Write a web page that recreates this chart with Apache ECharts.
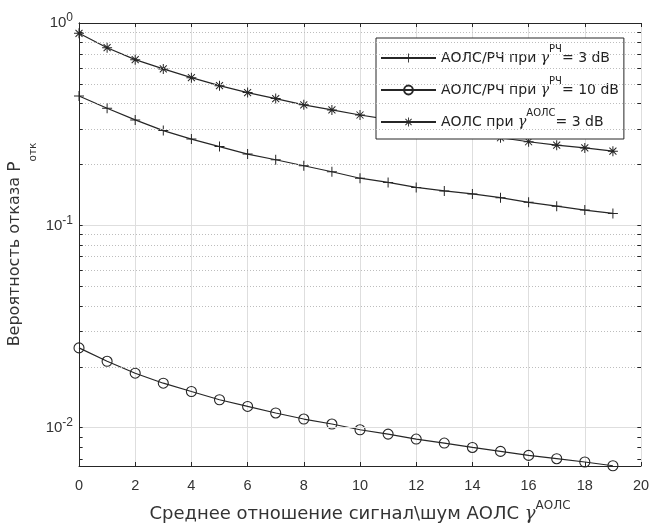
<!DOCTYPE html>
<html>
<head>
<meta charset="utf-8">
<script src="https://cdn.jsdelivr.net/npm/echarts@6/dist/echarts.min.js"></script>
<style>html,body{margin:0;padding:0;background:#fff}#c{width:651px;height:528px}</style>
</head>
<body>
<div id="c"></div>
<script>
// ---- data ----
const xValues = [0,1,2,3,4,5,6,7,8,9,10,11,12,13,14,15,16,17,18,19];
const hybridRf3dB = [0.436,0.379,0.332,0.294,0.267,0.245,0.225,0.211,0.197,0.184,0.171,0.163,0.154,0.148,0.143,0.137,0.130,0.1244,0.119,0.1145];
const hybridRf10dB = [0.0248,0.0213,0.0186,0.0166,0.0151,0.01375,0.01274,0.01183,0.01104,0.01043,0.00977,0.00930,0.00879,0.00840,0.00799,0.00764,0.00730,0.00703,0.00677,0.00649];
const fsoOnly3dB = [0.889,0.755,0.659,0.593,0.537,0.490,0.453,0.423,0.394,0.372,0.351,0.334,0.316,0.300,0.285,0.271,0.259,0.249,0.2415,0.2325];
const seriesNames = ['АОЛС/РЧ при γРЧ= 3 dB', 'АОЛС/РЧ при γРЧ= 10 dB', 'АОЛС при γАОЛС= 3 dB'];
const legendRich = [
  '{t|АОЛС/РЧ при }{g|γ}{s|РЧ}{t|= 3 dB}',
  '{t|АОЛС/РЧ при }{g|γ}{s|РЧ}{t|= 10 dB}',
  '{t|АОЛС при }{g|γ}{s|АОЛС}{t|= 3 dB}'
];
const xTickLabels = ['0','2','4','6','8','10','12','14','16','18','20'];
const yMin = 0.00647, yMax = 1;
const xMin = 0, xMax = 20, xStep = 2;
const majorDecades = [0.01, 0.1, 1];
const mantissas = [2,3,4,5,6,7,8,9];

// derived grid values
const minorValues = [];
[0.001, 0.01, 0.1].forEach(d => mantissas.forEach(m => {
  const v = +(m * d).toPrecision(3);
  if (v > yMin && v < yMax) minorValues.push(v);
}));
const majorValues = majorDecades.filter(v => v >= yMin && v <= yMax);
const allTickValues = majorValues.concat(minorValues);

const FONT = 'Liberation Sans, Arial, sans-serif';
const WIDE = 'DejaVu Sans, sans-serif';
const LINE = '#262626';
const TXT = '#333';
const plusPath = 'path://M0,4.5L10,4.5L10,5.5L0,5.5Z M4.5,0L5.5,0L5.5,10L4.5,10Z';
const starPath = 'path://M0,4.5L10,4.5L10,5.5L0,5.5Z M4.5,0L5.5,0L5.5,10L4.5,10Z M1.15,1.85L1.85,1.15L8.85,8.15L8.15,8.85Z M8.15,1.15L8.85,1.85L1.85,8.85L1.15,8.15Z';

const tickLenX = 0.13;
const tickData = [];
allTickValues.forEach(v => {
  tickData.push([{coord:[xMin, v]}, {coord:[xMin + tickLenX, v]}]);
  tickData.push([{coord:[xMax - tickLenX, v]}, {coord:[xMax, v]}]);
});

function mk(data, style) {
  return {
    silent: true, symbol: ['none','none'], animation: false,
    label: {show: false}, emphasis: {disabled: true},
    lineStyle: style, data: data
  };
}

const chart = echarts.init(document.getElementById('c'), null, {renderer: 'canvas'});
chart.setOption({
  animation: false,
  backgroundColor: '#fff',
  textStyle: {fontFamily: FONT},
  grid: {left: 79, top: 23, right: 10, bottom: 62, containLabel: false, outerBoundsMode: 'none'},
  legend: {
    data: seriesNames,
    orient: 'vertical',
    left: 376, top: 38,
    padding: [6, 5, 10, 4],
    itemGap: 11,
    itemWidth: 55, itemHeight: 11,
    backgroundColor: '#fff',
    borderColor: LINE, borderWidth: 1,
    formatter: name => legendRich[seriesNames.indexOf(name)],
    textStyle: {
      color: '#222', fontFamily: WIDE, fontSize: 14,
      rich: {
        t: {fontSize: 14, lineHeight: 28, verticalAlign: 'middle', color: '#222', fontFamily: WIDE},
        g: {fontSize: 14, lineHeight: 28, verticalAlign: 'middle', color: '#222', fontFamily: 'DejaVu Serif', fontStyle: 'italic'},
        s: {fontSize: 10, lineHeight: 12, verticalAlign: 'top', color: '#222', fontFamily: WIDE}
      }
    }
  },
  xAxis: [{
    type: 'value', min: xMin, max: xMax, interval: xStep, position: 'bottom',
    axisLine: {show: true, lineStyle: {color: LINE, width: 1}},
    axisTick: {show: true, inside: true, length: 4, lineStyle: {color: LINE}},
    axisLabel: {margin: 12, fontSize: 14.5, color: TXT, fontFamily: FONT,
      formatter: v => xTickLabels[Math.round((v - xMin) / xStep)]},
    splitLine: {show: true, lineStyle: {color: '#dedede', width: 1}},
    name: '{t|Среднее отношение сигнал\\шум АОЛС }{g|γ}{s|АОЛС}',
    nameLocation: 'middle', nameGap: 34,
    nameTextStyle: {
      color: TXT, fontSize: 18, fontFamily: WIDE,
      rich: {
        t: {fontSize: 18, lineHeight: 28, verticalAlign: 'middle', color: TXT, fontFamily: WIDE},
        g: {fontSize: 18, lineHeight: 28, verticalAlign: 'middle', color: TXT, fontFamily: 'DejaVu Serif', fontStyle: 'italic'},
        s: {fontSize: 12, lineHeight: 8, verticalAlign: 'top', color: TXT, fontFamily: WIDE}
      }
    }
  }, {
    type: 'value', min: xMin, max: xMax, interval: xStep, position: 'top',
    axisLine: {show: true, lineStyle: {color: LINE, width: 1}},
    axisTick: {show: true, inside: true, length: 4, lineStyle: {color: LINE}},
    axisLabel: {show: false}, splitLine: {show: false}
  }],
  yAxis: [{
    type: 'log', logBase: 10, min: yMin, max: yMax, position: 'left',
    axisLine: {show: true, lineStyle: {color: LINE, width: 1}},
    axisTick: {show: false},
    splitLine: {show: false},
    axisLabel: {
      margin: 6, color: TXT, fontFamily: FONT, fontSize: 15, showMinLabel: false,
      formatter: v => {
        const l = Math.log10(v), e = Math.round(l);
        if (Math.abs(l - e) > 1e-6) return '';
        return '{b|10}{s|' + (e < 0 ? '-' + (-e) : e) + '}';
      },
      rich: {
        b: {fontSize: 15, lineHeight: 22, verticalAlign: 'middle', color: TXT, fontFamily: FONT},
        s: {fontSize: 12, lineHeight: 12, verticalAlign: 'top', color: TXT, fontFamily: FONT}
      }
    },
    name: '{t|Вероятность отказа }{p|P}{s|отк}',
    nameLocation: 'middle', nameGap: 40, nameMoveOverlap: false,
    nameTextStyle: {
      color: TXT, fontSize: 16, fontFamily: WIDE,
      rich: {
        t: {fontSize: 16, lineHeight: 19, verticalAlign: 'top', color: TXT, fontFamily: WIDE},
        p: {fontSize: 17, lineHeight: 19, verticalAlign: 'top', color: TXT, fontFamily: WIDE},
        s: {fontSize: 10.5, lineHeight: 32, verticalAlign: 'bottom', color: TXT, fontFamily: WIDE}
      }
    }
  }, {
    type: 'log', logBase: 10, min: yMin, max: yMax, position: 'right',
    axisLine: {show: true, lineStyle: {color: LINE, width: 1}},
    axisTick: {show: false}, axisLabel: {show: false}, splitLine: {show: false}
  }],
  series: [
    {type: 'line', name: 'minorGrid', data: [], z: 1, silent: true,
      markLine: mk(minorValues.map(v => ({yAxis: v})), {color: '#bdbdbd', type: [1, 2], width: 1})},
    {type: 'line', name: 'majorGrid', data: [], z: 1, silent: true,
      markLine: mk(majorValues.filter(v => v < yMax).map(v => ({yAxis: v})), {color: '#dedede', type: 'solid', width: 1})},
    {type: 'line', name: 'ticks', data: [], z: 4, silent: true,
      markLine: mk(tickData, {color: LINE, type: 'solid', width: 1})},
    {type: 'line', name: seriesNames[0], z: 3,
      data: xValues.map((x, i) => [x, hybridRf3dB[i]]),
      symbol: plusPath, symbolSize: 10, showAllSymbol: true,
      lineStyle: {color: LINE, width: 1.2},
      itemStyle: {color: LINE, borderWidth: 0}},
    {type: 'line', name: seriesNames[1], z: 3,
      data: xValues.map((x, i) => [x, hybridRf10dB[i]]),
      symbol: 'circle', symbolSize: 10, showAllSymbol: true,
      lineStyle: {color: LINE, width: 1.2},
      itemStyle: {color: 'rgba(255,255,255,0)', borderColor: LINE, borderWidth: 1.1}},
    {type: 'line', name: seriesNames[2], z: 3,
      data: xValues.map((x, i) => [x, fsoOnly3dB[i]]),
      symbol: starPath, symbolSize: 10, showAllSymbol: true,
      lineStyle: {color: LINE, width: 1.2},
      itemStyle: {color: LINE, borderWidth: 0}}
  ]
});
</script>
</body>
</html>
